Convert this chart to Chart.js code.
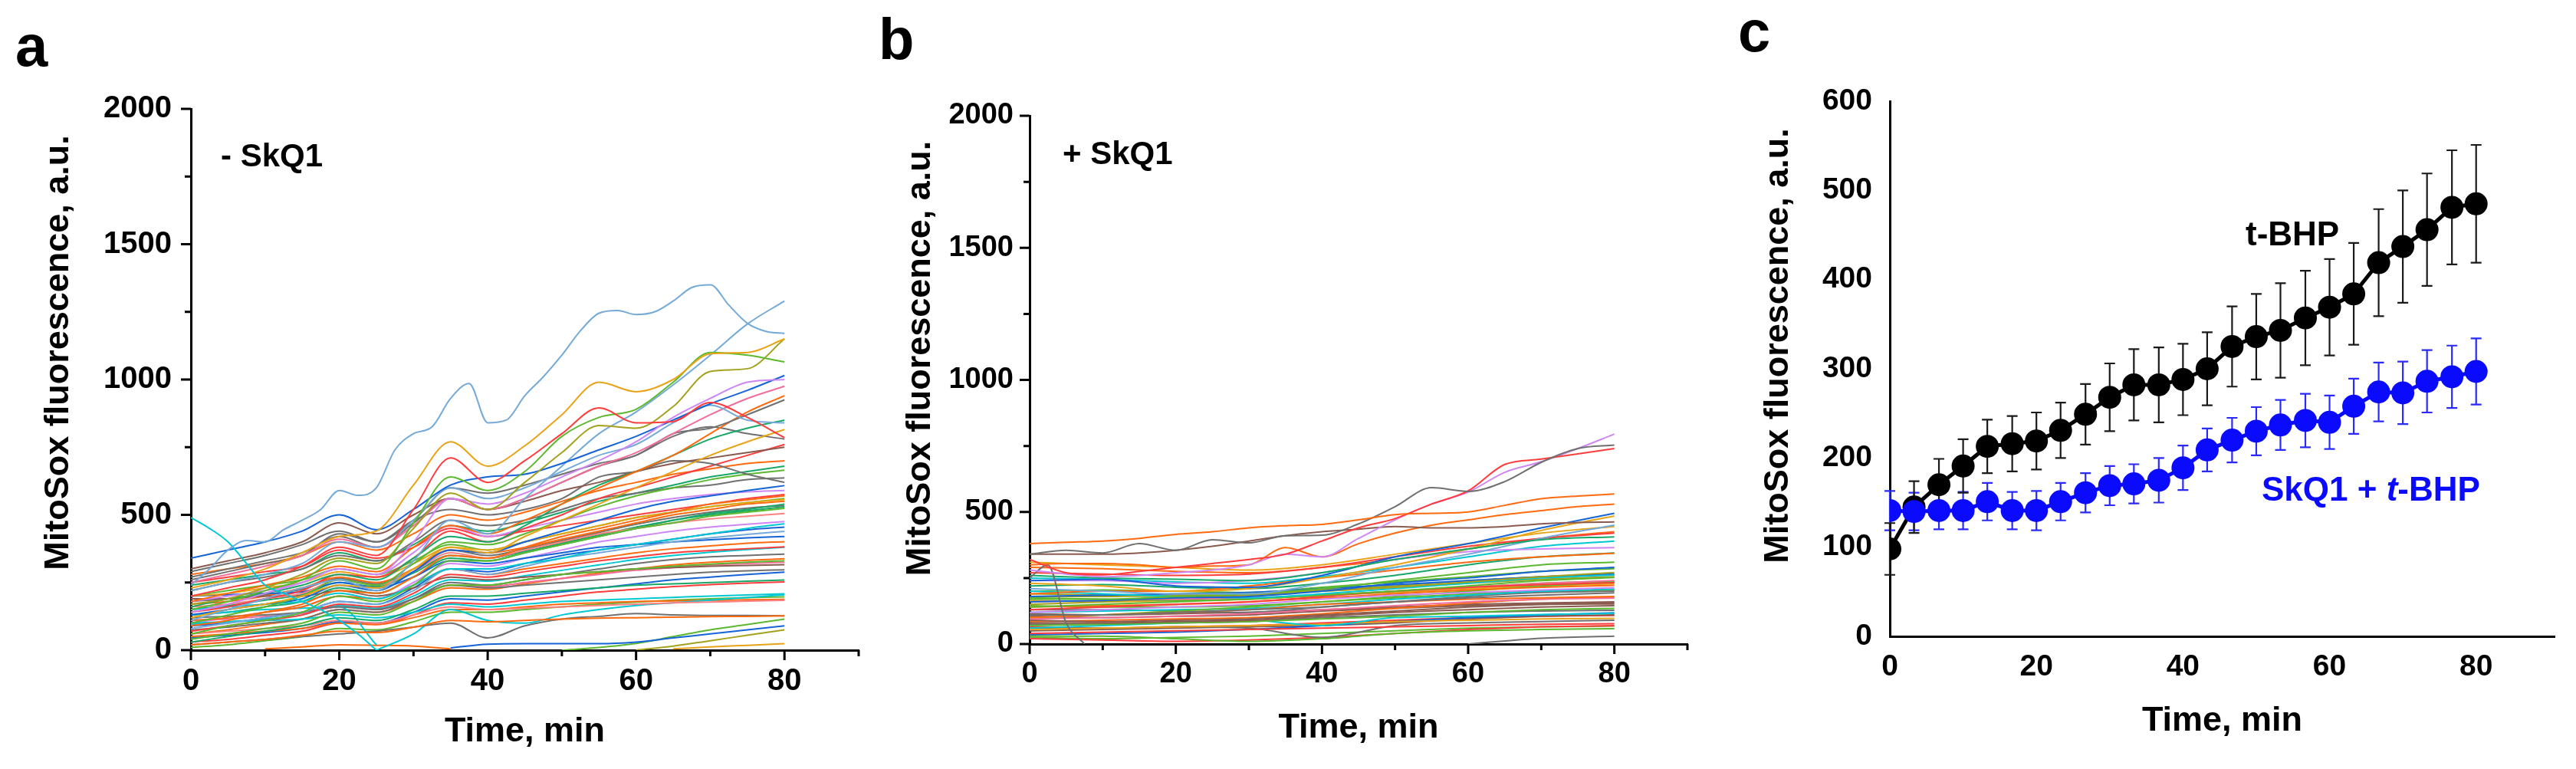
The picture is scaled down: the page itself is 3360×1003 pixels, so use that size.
<!DOCTYPE html>
<html>
<head>
<meta charset="utf-8">
<script src="https://cdn.jsdelivr.net/npm/chart.js@4.4.1/dist/chart.umd.min.js"></script>
<style>
    html, body { margin: 0; padding: 0; background: #fff; }
    #fig { position: relative; width: 3360px; height: 1003px; overflow: hidden;
           font-family: "Liberation Sans", Arial, sans-serif; font-weight: bold; color: #000; }
    #fig canvas { position: absolute; top: 0; }
    .lbl { position: absolute; line-height: 1; white-space: nowrap; }
</style>
</head>
<body>
<div id="fig">
    <canvas id="chartA" width="1150" height="1003" style="left:0"></canvas>
    <canvas id="chartB" width="1100" height="1003" style="left:1150px"></canvas>
    <canvas id="chartC" width="1110" height="1003" style="left:2250px"></canvas>

    <div class="lbl" style="left:20px;top:22px;font-size:76px">a</div>
    <div class="lbl" style="left:1146px;top:13px;font-size:76px">b</div>
    <div class="lbl" style="left:2267px;top:3px;font-size:76px">c</div>

    <div class="lbl" style="left:288px;top:182px;font-size:42px">- SkQ1</div>
    <div class="lbl" style="left:1386px;top:179px;font-size:42px">+ SkQ1</div>
    <div class="lbl" style="left:2929px;top:283px;font-size:44px">t-BHP</div>
    <div class="lbl" style="left:2950px;top:616px;font-size:44px;color:#0a0aff">SkQ1 + <i>t</i>-BHP</div>
</div>

<script>
// ---- time grids (min) ----
const time5 = [0, 5, 10, 15, 20, 25, 30, 35, 40, 45, 50, 55, 60, 65, 70, 75, 80];
const time10 = [0, 10, 20, 30, 40, 50, 60, 70, 80];
const timeFine = [0, 2.5, 5, 7.5, 10, 12.5, 15, 17.5, 20, 22.5, 25, 27.5, 30, 32.5, 35, 37.5, 40,
    42.5, 45, 47.5, 50, 52.5, 55, 57.5, 60, 62.5, 65, 67.5, 70, 72.5, 75, 77.5, 80];
const timeC = [0, 3.3, 6.7, 10, 13.3, 16.7, 20, 23.3, 26.7, 30, 33.3, 36.7, 40, 43.3, 46.7, 50,
    53.3, 56.7, 60, 63.3, 66.7, 70, 73.3, 76.7, 80];

// ---- panel a: single cells, - SkQ1 ----
const fineA = [
    [240, 300, 370, 405, 400, 445, 480, 520, 590, 572, 600, 740, 800, 825, 930, 985, 840, 850, 940, 1010,
     1090, 1180, 1245, 1255, 1240, 1250, 1290, 1340, 1350, 1275, 1208, 1178, 1170],
    [490, 450, 400, 320, 240, 210, 180, 150, 110, 60, 0, null, null, null, null, null, null, null, null,
     null, null, null, null, null, null, null, null, null, null, null, null, null, null]
];
const tracesA = [
    [230, 260, 300, 360, 420, 440, 610, 770, 680, 755, 870, 990, 955, 1000, 1095, 1100, 1150],
    [200, 230, 260, 310, 380, 350, 520, 710, 620, 700, 800, 895, 840, 845, 915, 860, 785],
    [150, 180, 220, 260, 330, 300, 470, 640, 590, 660, 790, 860, 890, 990, 1100, 1090, 1065],
    [170, 190, 230, 280, 340, 320, 450, 580, 520, 620, 730, 830, 820, 900, 1030, 1040, 1150],
    [140, 170, 210, 250, 300, 280, 400, 560, 540, 580, 640, 700, 770, 860, 930, 990, 1000],
    [340, 370, 400, 440, 500, 445, 520, 610, 640, 650, 690, 740, 790, 850, 910, 960, 1015],
    [110, 150, 190, 230, 260, 220, 330, 480, 430, 560, 680, 800, 880, 980, 1090, 1205, 1290],
    [220, 250, 280, 320, 400, 380, 480, 600, 560, 600, 660, 720, 760, 840, 905, 850, 840],
    [250, 280, 310, 350, 410, 380, 460, 560, 520, 560, 620, 680, 730, 800, 870, 930, 975],
    [290, 320, 350, 390, 440, 400, 480, 600, 580, 610, 650, 690, 720, 800, 820, 870, 925],
    [180, 210, 240, 270, 310, 290, 380, 460, 430, 480, 540, 600, 660, 720, 800, 880, 940],
    [160, 190, 210, 240, 280, 260, 340, 420, 400, 460, 540, 610, 660, 720, 780, 820, 850],
    [120, 150, 170, 200, 240, 230, 300, 380, 360, 420, 480, 540, 600, 660, 720, 770, 815],
    [300, 330, 360, 400, 470, 430, 500, 560, 520, 550, 590, 620, 660, 690, 710, 730, 750],
    [260, 290, 320, 350, 430, 400, 480, 520, 500, 520, 560, 640, 660, 700, 690, 650, 620],
    [100, 130, 160, 200, 260, 240, 320, 400, 390, 430, 480, 530, 570, 600, 630, 650, 665],
    [140, 160, 190, 220, 280, 270, 340, 440, 400, 450, 500, 560, 600, 640, 680, 720, 760],
    [220, 250, 270, 300, 350, 330, 400, 480, 460, 480, 520, 560, 580, 600, 610, 630, 637],
    [130, 150, 170, 190, 240, 220, 290, 370, 360, 400, 440, 480, 520, 550, 570, 590, 608],
    [180, 200, 220, 250, 300, 280, 360, 460, 420, 450, 480, 510, 540, 560, 575, 585, 590],
    [90, 110, 140, 170, 220, 210, 270, 350, 340, 380, 420, 450, 480, 510, 540, 555, 570],
    [200, 210, 230, 250, 290, 270, 320, 380, 370, 400, 430, 460, 490, 510, 530, 545, 557],
    [60, 90, 110, 140, 200, 180, 240, 330, 330, 360, 390, 420, 450, 470, 495, 510, 524],
    [160, 170, 190, 210, 260, 240, 290, 360, 340, 370, 400, 430, 450, 470, 485, 495, 505],
    [150, 160, 170, 180, 210, 190, 240, 300, 300, 320, 340, 370, 390, 410, 430, 450, 467],
    [80, 100, 120, 140, 180, 170, 220, 300, 280, 310, 340, 360, 380, 400, 415, 428, 439],
    [200, 205, 210, 215, 250, 230, 270, 330, 320, 340, 360, 380, 390, 400, 408, 415, 420],
    [110, 120, 140, 160, 200, 190, 240, 300, 280, 300, 320, 340, 360, 375, 385, 395, 401],
    [70, 90, 110, 130, 170, 160, 210, 280, 270, 290, 310, 330, 345, 360, 368, 375, 382],
    [40, 60, 80, 100, 140, 130, 180, 240, 240, 260, 280, 290, 300, 310, 318, 325, 330],
    [190, 190, 200, 200, 220, 200, 230, 270, 260, 270, 280, 290, 300, 305, 310, 313, 316],
    [120, 125, 130, 140, 160, 150, 190, 240, 230, 240, 250, 260, 270, 280, 288, 293, 297],
    [30, 50, 70, 90, 120, 110, 150, 200, 200, 210, 220, 230, 240, 245, 250, 255, 259],
    [100, 105, 110, 115, 130, 120, 140, 170, 160, 170, 180, 185, 190, 195, 200, 204, 208],
    [60, 70, 80, 90, 110, 100, 130, 160, 150, 155, 160, 165, 170, 175, 178, 181, 184],
    [20, 30, 40, 55, 70, 65, 85, 110, 105, 110, 115, 118, 120, 122, 124, 125, 127],
    [20, 30, 40, 50, 60, 70, 85, 100, 45, 90, 115, 125, 135, 130, 128, 128, 127],
    [130, 140, 150, 155, 160, 20, null, null, null, null, null, null, null, null, null, null, null],
    [null, null, null, null, null, 0, 60, 150, 110, 100, 130, 150, 165, 175, 185, 195, 205],
    [null, null, null, null, null, null, null, 8, 22, 24, 24, 24, 30, 45, 60, 75, 90],
    [null, null, null, null, null, null, null, null, null, null, 0, 10, 25, 50, 75, 95, 115],
    [null, null, null, null, null, null, null, null, null, null, null, null, 0, 15, 35, 55, 75],
    [null, null, null, null, null, null, null, null, null, null, null, null, null, 5, 12, 18, 24],
    [null, null, 5, 12, 20, 18, 15, 5, null, null, null, null, null, null, null, null, null],
    [130, 140, 160, 180, 230, 210, 270, 340, 330, 360, 390, 420, 450, 480, 500, 515, 530],
    [170, 180, 200, 230, 270, 250, 300, 370, 360, 380, 410, 440, 470, 500, 520, 540, 550],
    [90, 100, 120, 140, 180, 170, 230, 300, 290, 320, 350, 370, 390, 410, 430, 445, 455],
    [250, 270, 290, 310, 370, 340, 380, 450, 420, 440, 460, 480, 500, 520, 540, 560, 575],
    [200, 220, 240, 260, 300, 280, 330, 390, 370, 400, 430, 460, 490, 510, 530, 545, 560],
    [75, 85, 100, 115, 150, 140, 190, 250, 240, 260, 280, 300, 320, 335, 345, 350, 355],
    [110, 115, 125, 135, 160, 150, 190, 240, 235, 250, 265, 280, 295, 305, 315, 320, 325],
    [270, 300, 330, 360, 420, 380, 470, 560, 520, 560, 620, 680, 720, 790, 825, 800, 780],
    [50, 60, 70, 80, 100, 95, 120, 150, 150, 160, 170, 175, 180, 182, 184, 186, 188],
    [240, 260, 280, 300, 360, 330, 390, 460, 440, 470, 510, 550, 580, 610, 640, 660, 680],
    [100, 120, 140, 160, 200, 190, 250, 320, 310, 340, 370, 400, 420, 440, 455, 465, 475],
    [150, 165, 185, 205, 250, 235, 285, 350, 340, 365, 395, 425, 455, 480, 505, 520, 540],
    [60, 75, 95, 115, 150, 140, 180, 230, 225, 245, 265, 285, 300, 315, 325, 332, 338],
    [30, 40, 55, 70, 100, 95, 130, 175, 170, 185, 200, 215, 225, 235, 242, 248, 252],
    [10, 20, 35, 50, 80, 75, 105, 140, 140, 150, 160, 170, 178, 185, 190, 194, 197],
    [280, 300, 320, 350, 400, 370, 430, 500, 480, 510, 550, 590, 620, 650, 670, 690, 700],
    [45, 55, 65, 80, 105, 100, 140, 190, 185, 200, 215, 230, 245, 260, 270, 280, 288],
    [180, 190, 205, 225, 265, 245, 300, 370, 350, 375, 405, 435, 465, 490, 510, 525, 535],
    [95, 105, 115, 130, 165, 155, 200, 260, 255, 275, 295, 315, 335, 350, 362, 372, 380]
];

// ---- panel b: single cells, + SkQ1 ----
const fineB = [
    [250, 300, 80, 0, null, null, null, null, null, null, null, null, null, null, null, null, null,
     null, null, null, null, null, null, null, null, null, null, null, null, null, null, null, null]
];
const tracesB5 = [
    [380, 385, 390, 400, 415, 425, 440, 448, 453, 470, 490, 495, 500, 525, 550, 560, 568],
    [340, 355, 345, 380, 355, 395, 383, 410, 412, 455, 520, 592, 578, 615, 688, 740, 753],
    [320, 270, 262, 275, 290, 305, 320, 340, 390, 440, 475, 530, 580, 680, 700, 720, 740],
    [280, 265, 255, 260, 270, 280, 300, 340, 330, 400, 470, 530, 575, 650, 690, 740, 795],
    [340, 340, 340, 345, 355, 370, 390, 410, 425, 435, 445, 440, 440, 445, 455, 460, 462],
    [300, 305, 305, 300, 290, 295, 300, 365, 330, 380, 420, 450, 470, 490, 505, 520, 530]
];
const tracesB10 = [
    [260, 250, 245, 240, 270, 320, 360, 395, 406],
    [240, 245, 220, 215, 260, 330, 380, 440, 495],
    [230, 220, 200, 210, 250, 300, 360, 430, 485],
    [210, 200, 190, 190, 230, 290, 340, 400, 450],
    [190, 200, 200, 220, 250, 280, 310, 330, 343],
    [170, 170, 180, 190, 210, 240, 270, 300, 310],
    [160, 165, 175, 180, 200, 230, 250, 275, 290],
    [150, 160, 175, 185, 200, 215, 235, 255, 271],
    [200, 190, 180, 175, 190, 210, 230, 250, 261],
    [140, 150, 160, 170, 185, 200, 220, 240, 252],
    [130, 140, 150, 160, 180, 200, 215, 225, 232],
    [120, 130, 140, 150, 170, 185, 195, 205, 213],
    [110, 110, 120, 130, 140, 160, 175, 185, 194],
    [100, 110, 120, 130, 150, 160, 170, 175, 180],
    [95, 100, 105, 115, 130, 145, 160, 170, 174],
    [90, 85, 90, 95, 110, 125, 140, 150, 155],
    [80, 80, 85, 90, 105, 120, 130, 140, 145],
    [70, 75, 80, 85, 95, 105, 120, 130, 135],
    [60, 70, 80, 90, 70, 100, 105, 112, 116],
    [55, 60, 65, 70, 75, 85, 90, 95, 97],
    [40, 45, 50, 55, 60, 65, 70, 75, 77],
    [30, 30, 20, 10, 20, 40, 50, 55, 58],
    [60, 60, 65, 60, 25, 70, 80, 85, 90],
    [20, 15, 10, 15, 25, 40, 55, 65, 70],
    [180, 185, 190, 195, 210, 225, 240, 255, 265],
    [200, 205, 200, 195, 215, 235, 255, 275, 285],
    [140, 145, 150, 160, 175, 190, 205, 215, 222],
    [220, 225, 215, 210, 230, 260, 300, 330, 345],
    [240, 240, 230, 240, 270, 320, 350, 360, 365],
    [270, 265, 260, 265, 290, 330, 370, 400, 420],
    [100, 110, 125, 140, 160, 180, 200, 220, 235],
    [75, 75, 80, 85, 100, 110, 120, 125, 128],
    [120, 125, 130, 135, 150, 170, 185, 200, 208],
    [180, 180, 185, 190, 205, 220, 240, 255, 262],
    [85, 90, 95, 100, 115, 135, 155, 170, 178],
    [35, 40, 45, 55, 70, 85, 100, 110, 118],
    [160, 165, 170, 175, 185, 200, 215, 230, 240],
    [null, null, null, null, null, null, 0, 22, 30],
    [310, 300, 290, 280, 300, 340, 380, 420, 445],
    [50, 55, 60, 65, 70, 80, 95, 105, 110],
    [130, 130, 125, 120, 140, 160, 180, 195, 200],
    [190, 185, 180, 185, 200, 215, 230, 245, 255],
    [175, 170, 165, 170, 185, 200, 215, 230, 238],
    [165, 160, 165, 170, 185, 195, 210, 220, 228],
    [145, 140, 140, 145, 160, 175, 190, 200, 205],
    [115, 110, 115, 120, 130, 140, 150, 155, 160],
    [105, 100, 105, 110, 125, 135, 145, 150, 152],
    [65, 60, 65, 70, 80, 90, 100, 105, 108],
    [25, 20, 25, 30, 40, 50, 60, 65, 68],
    [250, 245, 235, 230, 255, 290, 330, 370, 390],
    [290, 285, 275, 270, 290, 320, 360, 400, 425]
];

// ---- panel c: mean +/- SD ----
const tbhpMean = [98, 145, 170, 191, 213, 216, 219, 231, 249, 268, 282, 282, 288, 300, 325, 336, 343, 357, 369, 384, 419, 437, 456, 481, 485];
const tbhpSd = [29, 29, 29, 30, 30, 31, 32, 31, 34, 38, 40, 42, 40, 41, 45, 48, 53, 53, 54, 57, 60, 63, 63, 64, 66];
const skqMean = [141, 140, 141, 141, 151, 141, 141, 151, 161, 169, 171, 175, 189, 209, 220, 230, 237, 242, 240, 258, 274, 273, 286, 291, 297];
const skqSd = [22, 21, 21, 21, 21, 21, 22, 21, 22, 22, 22, 25, 25, 24, 25, 27, 28, 30, 30, 31, 33, 35, 35, 35, 37];

// ---- styles ----
const FONT = '"Liberation Sans", Arial, sans-serif';
const C = {
    lb: '#74a9d8', gd: '#e8a317', rd: '#ff3c3c', gr: '#5cb82e', ol: '#a4a11c', vi: '#cf86f5',
    db: '#1464d8', pk: '#f26d9a', gy: '#707070', or: '#ff6a10', tl: '#17a868', br: '#8b5a4e',
    cy: '#00c8d2', sa: '#ff8080'
};
const fineColorsA = [C.lb, C.cy];
const colorsA = [C.gd, C.rd, C.gr, C.ol, C.vi, C.db, C.lb, C.lb, C.pk, C.gy, C.or, C.tl, C.gd, C.br, C.gy,
    C.gr, C.rd, C.gy, C.db, C.vi, C.or, C.gd, C.gr, C.sa, C.cy, C.lb, C.db, C.or, C.rd, C.gr, C.br, C.gy,
    C.tl, C.cy, C.sa, C.or, C.gy, C.cy, C.cy, C.db, C.gr, C.ol, C.gd, C.or, C.tl, C.or, C.db, C.rd, C.gr,
    C.gy, C.pk, C.gy, C.or, C.tl, C.vi, C.tl, C.or, C.rd, C.gr, C.or, C.db, C.gy, C.cy];
const fineColorsB = [C.gy];
const colorsB5 = [C.or, C.gy, C.rd, C.vi, C.br, C.or];
const colorsB10 = [C.tl, C.db, C.gd, C.lb, C.or, C.gr, C.db, C.ol, C.cy, C.gr, C.rd, C.vi, C.gy, C.or,
    C.pk, C.br, C.br, C.gr, C.cy, C.gd, C.rd, C.gr, C.gy, C.rd, C.db, C.gr, C.or, C.tl, C.vi, C.rd, C.gr,
    C.gy, C.cy, C.ol, C.or, C.db, C.pk, C.gy, C.gd, C.br, C.gy, C.ol, C.gr, C.gd, C.gr, C.br, C.br, C.rd,
    C.gr, C.cy, C.or];

Chart.defaults.font.family = FONT;
Chart.defaults.font.weight = 'bold';
Chart.defaults.color = '#000';

function traceSets(times, rows, colors) {
    return rows.map((row, i) => ({
        data: row.map((v, k) => ({ x: times[k], y: v })),
        borderColor: colors[i % colors.length],
        borderWidth: 2,
        pointRadius: 0,
        cubicInterpolationMode: 'monotone',
        fill: false
    }));
}

// outward major/minor tick marks of panels a and b
const axisTicks = {
    id: 'axisTicks',
    afterDraw(chart, args, opts) {
        if (!opts.on) return;
        const { ctx, scales: { x, y } } = chart;
        ctx.save();
        ctx.strokeStyle = '#000';
        ctx.lineWidth = 3;
        ctx.beginPath();
        for (let v = 0; v <= y.max; v += 250) {
            const py = y.getPixelForValue(v);
            ctx.moveTo(x.left, py);
            ctx.lineTo(x.left - (v % 500 ? 8 : 13), py);
        }
        for (let t = 0; t <= x.max; t += 10) {
            const px = x.getPixelForValue(t);
            ctx.moveTo(px, y.bottom);
            ctx.lineTo(px, y.bottom + (t % 20 ? 8 : 13));
        }
        ctx.stroke();
        ctx.restore();
    }
};

// vertical axis title, a bit above the axis centre as in the figure
const sideTitle = {
    id: 'sideTitle',
    afterDraw(chart, args, opts) {
        if (!opts.text) return;
        const { ctx, chartArea } = chart;
        ctx.save();
        ctx.font = 'bold 45px ' + FONT;
        ctx.fillStyle = '#000';
        ctx.textAlign = 'center';
        ctx.textBaseline = 'middle';
        ctx.translate(opts.x, (chartArea.top + chartArea.bottom) / 2 - opts.lift);
        ctx.rotate(-Math.PI / 2);
        ctx.fillText(opts.text, 0, 0);
        ctx.restore();
    }
};

// SD whiskers for panel c
const errorBars = {
    id: 'errorBars',
    beforeDatasetsDraw(chart, args, opts) {
        if (!opts.sd) return;
        const { ctx, scales: { x, y } } = chart;
        chart.data.datasets.forEach((ds, i) => {
            const sd = opts.sd[i];
            ctx.save();
            ctx.strokeStyle = opts.colors[i];
            ctx.lineWidth = 2.2;
            ctx.beginPath();
            ds.data.forEach((p, k) => {
                const px = x.getPixelForValue(p.x);
                const hi = y.getPixelForValue(p.y + sd[k]);
                const lo = y.getPixelForValue(p.y - sd[k]);
                ctx.moveTo(px, hi); ctx.lineTo(px, lo);
                ctx.moveTo(px - 7, hi); ctx.lineTo(px + 7, hi);
                ctx.moveTo(px - 7, lo); ctx.lineTo(px + 7, lo);
            });
            ctx.stroke();
            ctx.restore();
        });
    }
};

function axes(o) {
    return {
        x: {
            type: 'linear', min: 0, max: o.xMax,
            afterFit: s => { s.height = o.h - o.bottom; },
            border: { display: true, color: '#000', width: 3 },
            grid: { display: false, drawTicks: false },
            ticks: {
                stepSize: o.xStep, autoSkip: false, maxRotation: 0, padding: 17, includeBounds: false,
                font: { size: o.tickSize, weight: 'bold' },
                callback: v => (v % 20 === 0 && v <= 80 ? v : '')
            },
            title: {
                display: true, text: 'Time, min',
                font: { size: 45, weight: 'bold' },
                padding: { top: 0, bottom: o.titlePad }
            }
        },
        y: {
            min: 0, max: o.yMax,
            afterFit: s => { s.width = o.left; },
            border: { display: true, color: '#000', width: 3 },
            grid: { display: false, drawTicks: false },
            ticks: {
                stepSize: o.yStep, autoSkip: false, padding: o.yPad,
                font: { size: o.tickSize, weight: 'bold' },
                callback: v => (v % o.yLabelEvery === 0 ? v : '')
            }
        }
    };
}

function baseOptions(o) {
    return {
        responsive: false,
        animation: false,
        devicePixelRatio: 1,
        layout: { padding: { top: o.top, right: o.w - o.right, left: 0, bottom: 0 } },
        plugins: {
            legend: { display: false },
            tooltip: { enabled: false },
            axisTicks: { on: o.ticks },
            sideTitle: { text: 'MitoSox fluorescence, a.u.', x: o.titleX, lift: o.lift }
        },
        scales: axes(o)
    };
}

// panel a
new Chart(document.getElementById('chartA'), {
    type: 'line',
    data: {
        datasets: [
            ...traceSets(timeFine, fineA, fineColorsA),
            ...traceSets(time5, tracesA, colorsA)
        ]
    },
    options: baseOptions({
        w: 1150, h: 1003, left: 249, right: 1120, top: 142, bottom: 848,
        xMax: 90, xStep: 10, yMax: 2000, yStep: 250, yLabelEvery: 500,
        tickSize: 40, yPad: 25, titlePad: 21, titleX: 77, lift: 35, ticks: true
    }),
    plugins: [axisTicks, sideTitle]
});

// panel b
new Chart(document.getElementById('chartB'), {
    type: 'line',
    data: {
        datasets: [
            ...traceSets(time5, tracesB5, colorsB5),
            ...traceSets(timeFine, fineB, fineColorsB),
            ...traceSets(time10, tracesB10, colorsB10)
        ]
    },
    options: baseOptions({
        w: 1100, h: 1003, left: 193, right: 1051, top: 151, bottom: 840,
        xMax: 90, xStep: 10, yMax: 2000, yStep: 250, yLabelEvery: 500,
        tickSize: 38, yPad: 21, titlePad: 26, titleX: 51, lift: 28, ticks: true
    }),
    plugins: [axisTicks, sideTitle]
});

// panel c
const optsC = baseOptions({
    w: 1110, h: 1003, left: 215, right: 1082, top: 132, bottom: 830,
    xMax: 90.7, xStep: 20, yMax: 600, yStep: 100, yLabelEvery: 100,
    tickSize: 39, yPad: 23, titlePad: 35, titleX: 70, lift: 30, ticks: false
});
optsC.plugins.errorBars = { sd: [skqSd, tbhpSd], colors: ['#2a2aff', '#1a1a1a'] };

new Chart(document.getElementById('chartC'), {
    type: 'line',
    data: {
        datasets: [
            {
                label: 'SkQ1 + t-BHP',
                data: skqMean.map((v, k) => ({ x: timeC[k], y: v })),
                borderColor: '#0a0aff', backgroundColor: '#0a0aff',
                borderWidth: 5, pointRadius: 15, pointBorderWidth: 0, tension: 0
            },
            {
                label: 't-BHP',
                data: tbhpMean.map((v, k) => ({ x: timeC[k], y: v })),
                borderColor: '#000', backgroundColor: '#000',
                borderWidth: 5, pointRadius: 15, pointBorderWidth: 0, tension: 0
            }
        ]
    },
    options: optsC,
    plugins: [sideTitle, errorBars]
});
</script>
</body>
</html>
